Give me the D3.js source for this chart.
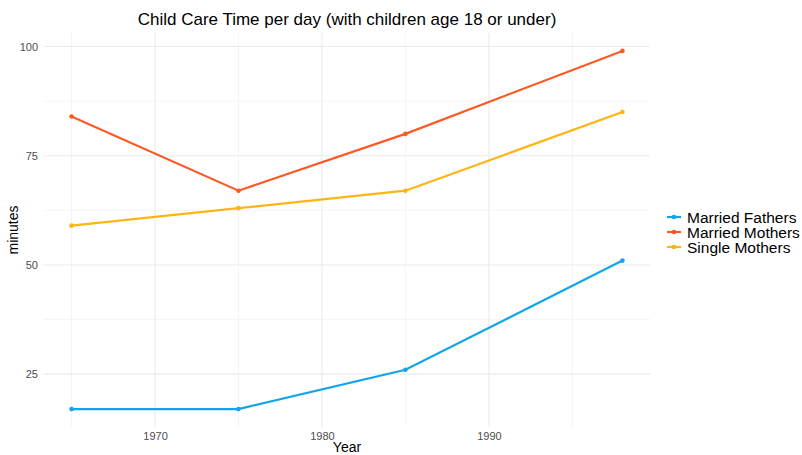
<!DOCTYPE html>
<html lang="en">
<head>
<meta charset="UTF-8">
<title>Child Care Time per day</title>
<script src="https://d3js.org/d3.v7.min.js"></script>
<style>
  body { margin: 0; background: #fff; }
  svg { display: block; font-family: "Liberation Sans", Arial, sans-serif; }
  .tick text { fill: #4d4d4d; font-size: 11px; }
</style>
</head>
<body>
<div id="chart"></div>
<script>
// data
var years = [1965, 1975, 1985, 1998];
var seriesNames = ["Married Fathers", "Married Mothers", "Single Mothers"];
var marriedFathers = [17, 17, 26, 51];
var marriedMothers = [84, 67, 80, 99];
var singleMothers = [59, 63, 67, 85];
var colors = ["#14a5e8", "#fb5a26", "#fdb515"];

var yTicks = [25, 50, 75, 100];
var yMinor = [37.5, 62.5, 87.5];
var xTicks = [1970, 1980, 1990];
var xMinor = [1965, 1975, 1985, 1995];

var W = 802, H = 455;
var margin = { top: 33, right: 152, bottom: 28, left: 44 };
var width = W - margin.left - margin.right,
    height = H - margin.top - margin.bottom;

var series = [marriedFathers, marriedMothers, singleMothers].map(function (vals, i) {
  return { name: seriesNames[i], values: vals.map(function (v, j) { return { year: years[j], value: v }; }) };
});

var svg = d3.select("#chart").append("svg")
  .attr("width", W).attr("height", H);

var g = svg.append("g")
  .attr("transform", "translate(" + margin.left + "," + margin.top + ")");

// ggplot-style 5% expansion
var xExt = d3.extent(years), xPad = (xExt[1] - xExt[0]) * 0.05;
var allVals = marriedFathers.concat(marriedMothers, singleMothers);
var yExt = d3.extent(allVals), yPad = (yExt[1] - yExt[0]) * 0.05;

var x = d3.scaleLinear().domain([xExt[0] - xPad, xExt[1] + xPad]).range([0, width]);
var y = d3.scaleLinear().domain([yExt[0] - yPad, yExt[1] + yPad]).range([height, 0]);

// grid
g.selectAll(".ymin").data(yMinor).enter().append("line")
  .attr("x1", 0).attr("x2", width)
  .attr("y1", function (d) { return y(d); }).attr("y2", function (d) { return y(d); })
  .attr("stroke", "#f3f3f3").attr("stroke-width", 0.8);
g.selectAll(".xmin").data(xMinor).enter().append("line")
  .attr("y1", 0).attr("y2", height)
  .attr("x1", function (d) { return x(d); }).attr("x2", function (d) { return x(d); })
  .attr("stroke", "#f3f3f3").attr("stroke-width", 0.8);
g.selectAll(".ymaj").data(yTicks).enter().append("line")
  .attr("x1", 0).attr("x2", width)
  .attr("y1", function (d) { return y(d); }).attr("y2", function (d) { return y(d); })
  .attr("stroke", "#ebebeb").attr("stroke-width", 1.1);
g.selectAll(".xmaj").data(xTicks).enter().append("line")
  .attr("y1", 0).attr("y2", height)
  .attr("x1", function (d) { return x(d); }).attr("x2", function (d) { return x(d); })
  .attr("stroke", "#ebebeb").attr("stroke-width", 1.1);

// axes (labels only)
var xAxis = g.append("g")
  .attr("transform", "translate(0," + height + ")")
  .call(d3.axisBottom(x).tickValues(xTicks).tickFormat(d3.format("d")).tickSize(0).tickPadding(5));
xAxis.select(".domain").remove();

var yAxis = g.append("g")
  .call(d3.axisLeft(y).tickValues(yTicks).tickSize(0).tickPadding(6));
yAxis.select(".domain").remove();

// lines and points
var line = d3.line()
  .x(function (d) { return x(d.year); })
  .y(function (d) { return y(d.value); });

g.selectAll(".series-line").data(series).enter().append("path")
  .attr("d", function (d) { return line(d.values); })
  .attr("fill", "none")
  .attr("stroke", function (d, i) { return colors[i]; })
  .attr("stroke-width", 2.2);

g.selectAll(".pts").data(series).enter().append("g")
  .attr("fill", function (d, i) { return colors[i]; })
  .selectAll("circle")
  .data(function (d) { return d.values; })
  .enter().append("circle")
  .attr("cx", function (d) { return x(d.year); })
  .attr("cy", function (d) { return y(d.value); })
  .attr("r", 2.3);

// title and axis titles
svg.append("text")
  .attr("x", margin.left + width / 2).attr("y", 25)
  .attr("text-anchor", "middle")
  .style("font-size", "17px").style("fill", "#000")
  .text("Child Care Time per day (with children age 18 or under)");

svg.append("text")
  .attr("x", margin.left + width / 2).attr("y", 452)
  .attr("text-anchor", "middle")
  .style("font-size", "14px").style("fill", "#000")
  .text("Year");

svg.append("text")
  .attr("transform", "translate(18," + (margin.top + height / 2) + ") rotate(-90)")
  .attr("text-anchor", "middle")
  .style("font-size", "14px").style("fill", "#000")
  .text("minutes");

// legend
var legend = svg.selectAll(".legend").data(series).enter().append("g")
  .attr("transform", function (d, i) { return "translate(667," + (217 + i * 15) + ")"; });

legend.append("line")
  .attr("x1", 0).attr("x2", 14).attr("y1", 0).attr("y2", 0)
  .attr("stroke", function (d, i) { return colors[i]; })
  .attr("stroke-width", 2.2);
legend.append("circle")
  .attr("cx", 7).attr("cy", 0).attr("r", 2.3)
  .attr("fill", function (d, i) { return colors[i]; });
legend.append("text")
  .attr("x", 20).attr("y", 5.5)
  .style("font-size", "15.5px").style("fill", "#000")
  .text(function (d) { return d.name; });
</script>
</body>
</html>
